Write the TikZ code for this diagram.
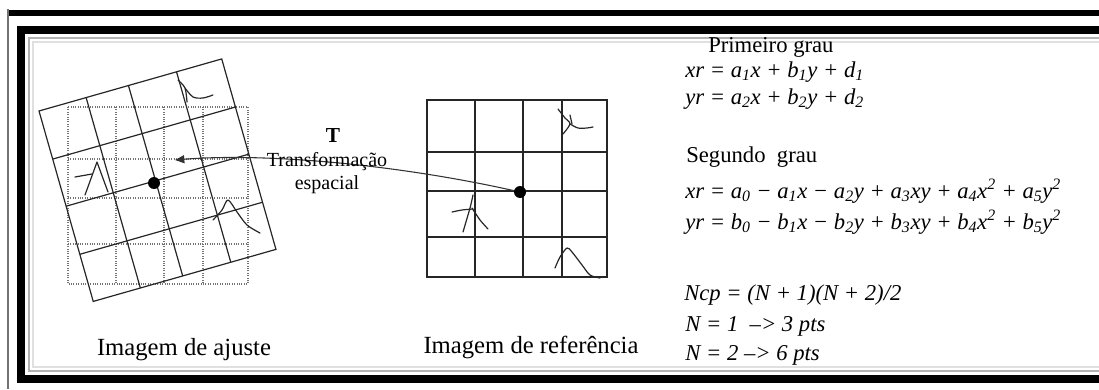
\documentclass[tikz,border=0pt]{standalone}
\usepackage{fontspec}
\setmainfont{Liberation Serif}
\usetikzlibrary{arrows.meta}
\newcommand{\ix}[1]{\textsubscript{#1}}
\newcommand{\sq}{\textsuperscript{2}}
% malha da imagem de referencia (colunas e linhas irregulares)
\newcommand{\malha}[1]{%
  \draw[#1] (427,-100) rectangle (607,-277);
  \foreach \x in {475,523,562} \draw[#1] (\x,-100) -- (\x,-277);
  \foreach \y in {152,191,237} \draw[#1] (427,-\y) -- (607,-\y);}
\tikzset{
  moldura/.style ={draw=black, line width=6pt},
  sombra/.style  ={draw=black!#1, line width=2pt},
  grade/.style   ={draw=black!85, line width=0.9pt},
  gradep/.style  ={draw=black!55, line width=0.8pt, densely dotted},
  feat/.style    ={draw=black!85, line width=0.9pt, line join=round, line cap=round},
  ponto/.style   ={circle, fill=black, inner sep=0pt, minimum size=9pt},
  flow/.style    ={-{Triangle[length=7pt, width=6pt]}, line width=0.8pt, draw=black!80},
  legenda/.style ={font=\fontsize{18.5}{20}\selectfont, anchor=base, inner sep=0pt},
  rotulo/.style  ={font=\fontsize{15}{17.25}\selectfont, align=center, anchor=base, inner sep=0pt},
  grau/.style    ={font=\fontsize{17}{18}\selectfont, anchor=base west, inner sep=0pt},
  eqn/.style     ={font=\fontsize{17}{18}\selectfont\itshape, anchor=base west, inner sep=0pt},
}
\begin{document}
\begin{tikzpicture}[x=0.75pt, y=0.75pt]
  \useasboundingbox (0,0) rectangle (1099,-389);
  % molduras
  \draw[line width=5.2pt] (8,-13) -- (1099,-13);
  \draw[draw=black!55, line width=1.2pt] (8,-9) -- (8,-389);
  \draw[sombra=12] (33,-42) rectangle (1120,-367);
  \draw[sombra=30] (29,-38) rectangle (1120,-371);
  \draw[moldura] (21,-30) rectangle (1120,-379);

  % imagem de referencia
  \malha{grade}
  \draw[feat] plot[smooth] coordinates {(558,-109) (565,-118) (570,-124) (563,-134)};
  \draw[feat] (570,-115) -- (572,-124);
  \draw[feat] plot[smooth] coordinates {(570,-124) (578,-128) (587,-128) (593,-127)};
  \draw[feat] plot[smooth] coordinates {(452,-212) (462,-210) (473,-209)};
  \draw[feat] plot[smooth] coordinates {(473,-195) (470,-208) (463,-232)};
  \draw[feat] plot[smooth] coordinates {(472,-208) (480,-220) (488,-229)};
  \draw[feat] plot[smooth] coordinates {(555,-268) (560,-257) (567,-248) (572,-252) (582,-265) (590,-275) (600,-278)};

  % imagem de ajuste
  \begin{scope}[shift={(-359,-7)}]
    \malha{gradep}
  \end{scope}
  \begin{scope}[shift={(39,-111)}, rotate=15.9]
    \draw[grade] (0,0) rectangle (190,-198);
    \foreach \x in {49,93,143} \draw[grade] (\x,0) -- (\x,-198);
    \foreach \y in {50,99,149} \draw[grade] (0,-\y) -- (190,-\y);
  \end{scope}
  \draw[feat] plot[smooth] coordinates {(178,-80) (185,-88) (187,-102)};
  \draw[feat] plot[smooth] coordinates {(185,-88) (193,-97) (203,-98) (213,-95)};
  \draw[feat] (75,-177) -- (92,-174);
  \draw[feat] (85,-195) -- (97,-162) -- (108,-192);
  \draw[feat] plot[smooth] coordinates {(213,-220) (222,-210) (228,-200) (237,-212) (247,-225) (260,-233)};

  % pontos e transformacao
  \node[ponto] (pref) at (520,-192) {};
  \node[ponto] (paj) at (154,-183) {};
  \coordinate (ponta) at (175,-160);
  \draw[flow] (pref) .. controls (390,-163) and (260,-153) .. (ponta);
  \node[font=\fontsize{16}{18}\selectfont\bfseries, anchor=base, inner sep=0pt] (tlab) at (333,-142) {T};
  \node[rotulo] (transf) at (327,-189) {Transformação\\espacial};

  % legendas
  \node[legenda] (cajuste) at (184,-355) {Imagem de ajuste};
  \node[legenda] (cref) at (531,-353) {Imagem de referência};

  % polinomios
  \node[grau] (g1) at (708,-52) {Primeiro grau};
  \node[eqn] (x1) at (685,-77) {xr = a\ix{1}x + b\ix{1}y + d\ix{1}};
  \node[eqn] (y1) at (685,-104) {yr = a\ix{2}x + b\ix{2}y + d\ix{2}};
  \node[grau] (g2) at (686,-162) {Segundo\ \ grau};
  \node[eqn] (x2) at (685,-198) {xr = a\ix{0} − a\ix{1}x − a\ix{2}y + a\ix{3}xy + a\ix{4}x\sq{} + a\ix{5}y\sq};
  \node[eqn] (y2) at (685,-229) {yr = b\ix{0} − b\ix{1}x − b\ix{2}y + b\ix{3}xy + b\ix{4}x\sq{} + b\ix{5}y\sq};
  \node[eqn] (ncp) at (684,-300) {Ncp = (N + 1)(N + 2)/2};
  \node[eqn] (n1) at (685,-331) {N = 1 \ –> 3 pts};
  \node[eqn] (n2) at (685,-360) {N = 2 –> 6 pts};
\end{tikzpicture}
\end{document}
